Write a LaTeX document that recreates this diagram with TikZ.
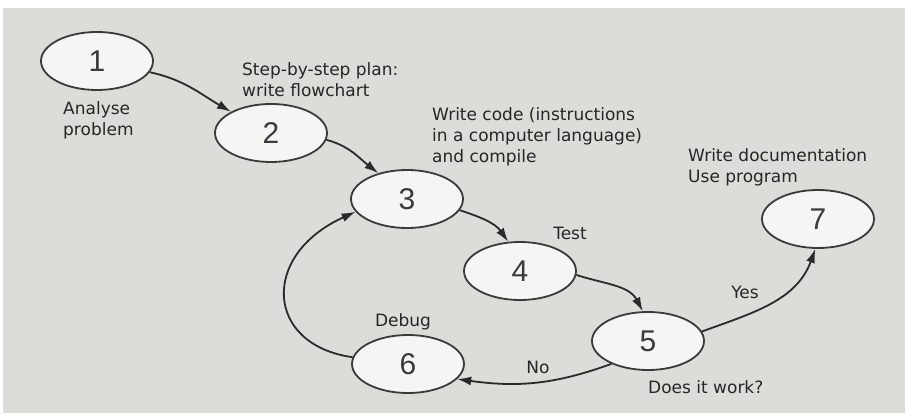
\documentclass[tikz,border=0pt]{standalone}
\usepackage{fontspec}
\setmainfont{DejaVu Sans}
\newfontfamily\digitfont{Liberation Sans}
\usetikzlibrary{shapes.geometric,arrows.meta}
\definecolor{bggray}{HTML}{DCDCD8}
\definecolor{ellfill}{HTML}{F5F5F3}
\definecolor{inkgray}{HTML}{3A3A3A}
\definecolor{textgray}{HTML}{262626}
\definecolor{linegray}{HTML}{2A2A2A}
\tikzset{
  stage/.style={ellipse, draw=inkgray, line width=1.8pt, fill=ellfill,
    minimum width=112pt, minimum height=58pt, inner sep=0pt,
    font=\digitfont\fontsize{30}{30}\selectfont, text=inkgray},
  lbl/.style={font=\fontsize{17}{21}\selectfont, text=textgray, inner sep=0pt},
  flow/.style={draw=linegray, line width=1.8pt, -{Latex[length=14pt,width=9pt]}}
}
\begin{document}
\begin{tikzpicture}[x=1pt,y=-1pt]
\useasboundingbox[fill=white] (0,0) rectangle (905,417);
\fill[bggray] (3,8) rectangle (905,413);

\node[stage] (n1) at (97,61) {1};
\node[stage] (n2) at (271,133) {2};
\node[stage] (n3) at (407,199) {3};
\node[stage] (n4) at (520,271) {4};
\node[stage] (n5) at (648,341) {5};
\node[stage] (n6) at (408,364) {6};
\node[stage] (n7) at (818,219) {7};

\node[lbl, anchor=west, align=left] (t1) at (63,120) {Analyse\\problem};
\node[lbl, anchor=west, align=left] (t2) at (242,80) {Step-by-step plan:\\write flowchart};
\node[lbl, anchor=west, align=left] (t3) at (432,137) {Write code (instructions\\in a computer language)\\and compile};
\node[lbl] (t4) at (570,233) {Test};
\node[lbl, anchor=west] (t5) at (648,387) {Does it work?};
\node[lbl] (t6) at (403,322) {Debug};
\node[lbl, anchor=west, align=left] (t7) at (688,167.5) {Write documentation\\Use program};
\node[lbl] (tyes) at (745,292) {Yes};
\node[lbl] (tno) at (538,367) {No};

\draw[flow] (n1.-12) to[out=-12,in=150] (n2.152);
\draw[flow] (n2.-7) to[out=-15,in=142] (n3.138);
\draw[flow] (n3.-12) to[out=-18,in=125] (n4.112);
\draw[flow] (n4.-4) to[out=-18,in=118] (n5.100);
\draw[flow] (n5.10) to[out=20,in=-110] (n7.-95);
\draw[flow] (n5.212) to[out=200,in=-8] (n6.-17);
\draw[flow] (n6.173) .. controls (265,345) and (260,255) .. (n3.194);
\end{tikzpicture}
\end{document}
